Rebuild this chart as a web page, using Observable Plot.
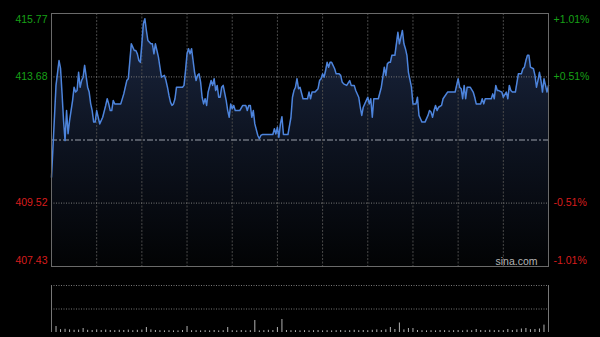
<!DOCTYPE html>
<html><head><meta charset="utf-8">
<script src="https://cdn.jsdelivr.net/npm/d3@7"></script>
<script src="https://cdn.jsdelivr.net/npm/@observablehq/plot@0.6"></script>
<style>
html,body{margin:0;padding:0;background:#000;}
#chart{position:relative;width:600px;height:337px;background:#000;overflow:hidden;}
#chart svg{position:absolute;left:0;}
</style></head><body><div id="chart"></div>
<script>
// ---- data ----
const minutes = [
  0,3,5,6,7,8,9,10,11,12,
  14,15,16,17,18,19,20,21,22,24,
  25,26,27,28,29,30,31,32,34,36,
  37,38,39,40,41,42,46,48,50,51,
  53,55,56,57,58,59,60,61,62,63,
  64,66,67,68,69,70,71,72,73,75,
  76,77,78,79,80,81,82,83,87,88,
  89,90,91,92,93,94,95,96,97,98,
  99,100,101,102,103,104,106,107,108,109,
  110,111,112,113,114,116,117,118,119,120,
  121,122,125,127,129,130,131,132,133,134,
  135,137,138,139,140,147,148,149,150,151,
  152,153,154,157,159,160,161,162,163,164,
  165,167,170,171,172,173,175,177,178,179,
  180,181,182,183,184,185,186,188,189,191,
  192,193,194,196,198,199,201,202,204,205,
  206,207,209,210,211,212,213,214,217,219,
  220,221,222,223,224,225,226,228,230,231,
  232,233,234,235,236,237,239,240,242,243,
  244,245,246,248,250,251,252,253,254,255,
  256,257,259,260,263,268,270,271,272,273,
  274,275,276,278,280,281,282,285,286,287,
  288,292,293,294,295,296,297,299,300,302,
  303,304,305,306,308,310,312,313,314,315,
  316,317,318,320,321,322,323,324,325,326,
  327,329,330
];
const prices = [
  410.37,413.40,414.22,413.96,413.13,412.24,411.58,412.57,411.81,412.24,
  412.90,413.34,413.18,413.23,413.83,413.34,413.56,413.67,414.06,413.34,
  413.18,412.80,412.57,412.19,412.19,412.57,412.35,412.13,412.35,412.74,
  412.96,412.79,412.57,412.57,412.90,412.79,412.79,413.12,413.56,413.62,
  414.77,414.55,414.55,414.44,414.22,414.16,414.77,415.43,415.60,415.21,
  414.88,414.77,414.77,414.44,414.77,414.55,414.33,414.00,413.67,413.73,
  413.56,413.34,413.07,412.85,412.74,412.79,412.96,413.34,413.34,413.40,
  413.89,414.44,414.61,414.44,414.61,414.22,413.83,413.56,413.73,413.78,
  413.51,413.01,412.79,412.96,412.74,413.18,413.56,413.40,413.62,413.23,
  413.40,413.01,413.01,413.34,413.40,412.90,412.57,412.35,412.79,412.63,
  412.74,412.57,412.57,412.74,412.74,412.57,412.74,412.74,412.35,412.57,
  412.13,411.75,411.64,411.75,411.78,411.78,411.97,411.80,412.02,411.69,
  412.13,412.37,411.78,411.78,412.35,413.01,413.23,413.34,413.62,413.29,
  413.34,412.96,412.96,413.18,412.96,413.18,413.18,413.29,413.56,413.62,
  413.78,413.67,413.89,414.16,414.00,414.16,414.16,413.95,413.78,413.78,
  413.73,413.51,413.45,413.40,413.56,413.40,413.40,413.23,413.01,412.68,
  412.41,412.68,412.90,413.01,412.79,412.96,412.35,412.96,412.96,413.34,
  413.67,414.00,413.73,414.11,414.16,414.16,414.39,414.39,415.15,414.77,
  414.99,415.21,414.77,414.61,414.39,413.83,413.34,412.79,412.79,413.01,
  412.41,412.30,412.19,412.19,412.41,412.57,412.52,412.35,412.57,412.74,
  412.57,412.68,412.74,412.96,413.18,413.18,413.62,413.34,413.29,412.96,
  413.40,412.96,413.34,413.34,413.18,413.01,412.79,412.79,412.96,412.79,
  412.96,412.96,413.12,412.96,413.40,413.23,413.23,413.18,413.01,413.18,
  412.96,413.40,413.23,413.18,413.18,413.78,413.78,413.95,414.00,414.22,
  414.39,414.39,414.00,413.95,413.73,413.34,413.56,413.83,413.56,413.18,
  413.62,413.18,413.40
];
const volMinutes = [
  0,3,6,9,12,15,18,21,24,27,30,33,36,39,42,45,48,51,54,57,
  60,63,66,69,72,75,78,81,84,87,90,93,96,99,102,105,108,111,114,117,
  120,123,126,129,132,135,138,141,144,147,150,153,156,159,162,165,168,171,174,177,
  180,183,186,189,192,195,198,201,204,207,210,213,216,219,222,225,228,231,234,237,
  240,243,246,249,252,255,258,261,264,267,270,273,276,279,282,285,288,291,294,297,
  300,303,306,309,312,315,318,321,324,327,330
];
const volumes = [
  34,60,28,32,26,22,24,40,22,20,26,20,24,20,18,22,20,24,18,22,
  24,50,26,20,18,16,18,16,16,20,60,18,18,16,18,16,20,16,18,50,
  18,16,20,16,18,120,16,18,22,20,50,130,20,18,18,16,18,16,18,20,
  16,18,16,18,20,16,18,22,18,20,18,22,26,20,26,50,30,95,26,40,
  40,20,18,16,18,16,20,18,16,18,20,16,22,18,30,20,18,22,18,20,
  18,30,20,26,35,40,28,30,35,74,26
];
const priceTicks = [415.77, 413.68, 409.52, 407.43];
const priceLabels = ["415.77", "413.68", "409.52", "407.43"];
const pctLabels = ["+1.01%", "+0.51%", "-0.51%", "-1.01%"];
const prevClose = 411.60;
const timeTicks = [30, 60, 90, 120, 150, 180, 210, 240, 270, 300];
const sessionMinutes = [0, 330];
const volMax = 470;
const watermark = "sina.com";

// ---- build ----
const yMin = d3.min(priceTicks), yMax = d3.max(priceTicks);
const series = minutes.map((m, i) => ({m, p: prices[i]}));
const volData = volMinutes.map((m, i) => ({m, v: volumes[i]}));
const ticks = priceTicks.map((v, i) => ({v, left: priceLabels[i], right: pctLabels[i], up: v > prevClose}));
const font = "'Liberation Sans', Arial, Helvetica, sans-serif";
const green = "#17a117", red = "#d81d1d";

const gradient = () => {
  const ns = "http://www.w3.org/2000/svg";
  const defs = document.createElementNS(ns, "defs");
  defs.innerHTML = '<linearGradient id="areaGrad" x1="0" y1="0" x2="0" y2="1">' +
    '<stop offset="0" stop-color="#1b2741"/><stop offset="0.5" stop-color="#0d1320"/>' +
    '<stop offset="1" stop-color="#020304"/></linearGradient>';
  return defs;
};

function labelMarks(filterFn, dy) {
  const sub = ticks.filter(filterFn);
  return [
    Plot.text(sub, {y: "v", text: "left", frameAnchor: "left", textAnchor: "end", dx: -4, dy,
      fill: d => d.up ? green : red, fontSize: 10.5}),
    Plot.text(sub, {y: "v", text: "right", frameAnchor: "right", textAnchor: "start", dx: 5, dy,
      fill: d => d.up ? green : red, fontSize: 10.5})
  ];
}

const main = Plot.plot({
  width: 600, height: 270,
  marginTop: 13, marginBottom: 4, marginLeft: 51, marginRight: 52,
  style: {background: "transparent", fontFamily: font, overflow: "visible"},
  x: {domain: sessionMinutes, axis: null},
  y: {domain: [yMin, yMax], axis: null},
  marks: [
    gradient,
    Plot.areaY(series, {x: "m", y1: () => yMin, y2: "p", fill: "url(#areaGrad)"}),
    Plot.ruleX(timeTicks, {stroke: "#4a4a4a", strokeDasharray: "2,1.5"}),
    Plot.ruleY(priceTicks.filter(v => v !== yMin && v !== yMax), {stroke: "#7a7a7a", strokeDasharray: "1,1.5"}),
    Plot.ruleY([prevClose], {stroke: "#6c727c", strokeWidth: 1.5, strokeDasharray: "6,2,2,2"}),
    Plot.line(series, {x: "m", y: "p", stroke: "#4d84dc", strokeWidth: 1.5}),
    Plot.frame({stroke: "#6a6a6a"}),
    ...labelMarks(d => d.v === yMax, 6),
    ...labelMarks(d => d.v !== yMax && d.v !== yMin, 0),
    ...labelMarks(d => d.v === yMin, -6),
    Plot.text([watermark], {frameAnchor: "bottom-right", textAnchor: "end", lineAnchor: "bottom",
      dx: -11, dy: -2, fill: "#b5b5b5", fontSize: 10.5})
  ]
});
main.style.top = "0px";

const vol = Plot.plot({
  width: 600, height: 67,
  marginTop: 15, marginBottom: 5, marginLeft: 51, marginRight: 52,
  style: {background: "transparent", fontFamily: font, overflow: "visible"},
  x: {domain: sessionMinutes, axis: null},
  y: {domain: [0, volMax], axis: null},
  marks: [
    Plot.ruleY([volMax, volMax / 2], {stroke: "#777", strokeDasharray: "1,1.5"}),
    Plot.ruleX(volData, {x: "m", y1: 0, y2: "v", stroke: "#b0b0b0", strokeWidth: 1}),
    Plot.ruleX(sessionMinutes, {stroke: "#777"})
  ]
});
vol.style.top = "270px";

const chart = document.getElementById("chart");
chart.appendChild(main);
chart.appendChild(vol);
</script>
</body></html>
